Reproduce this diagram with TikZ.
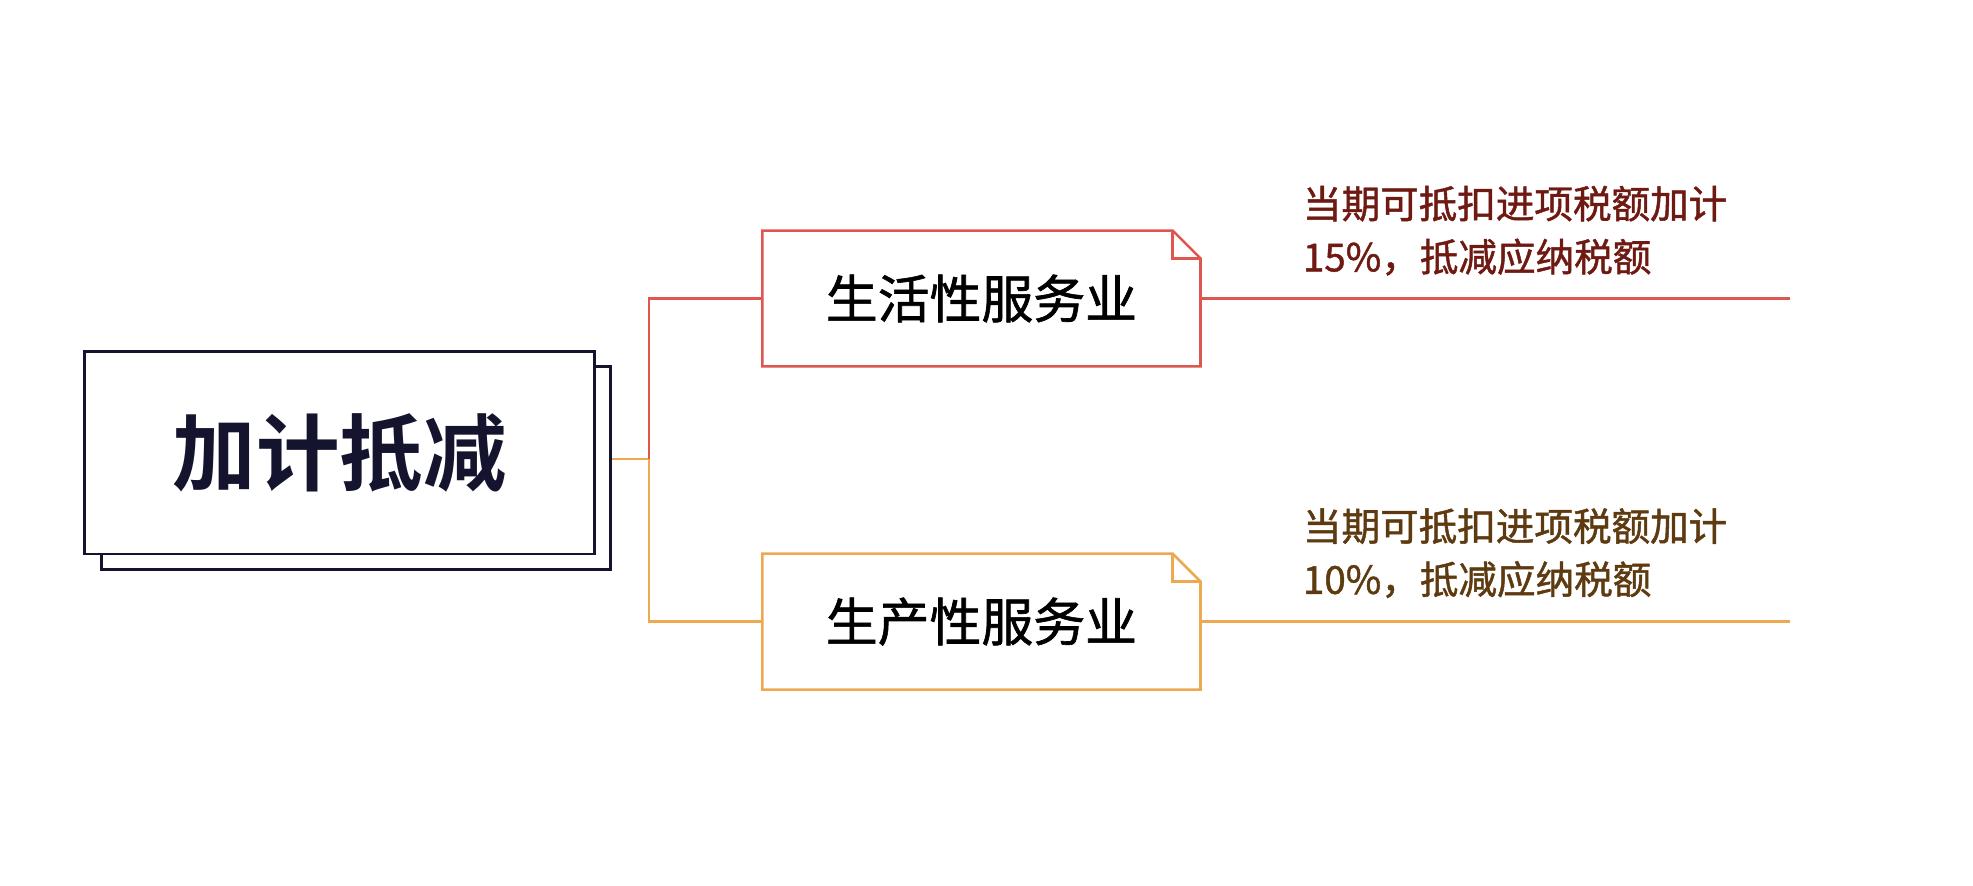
\documentclass[tikz,border=0pt]{standalone}
\usepackage{fontspec}
\newfontfamily\cjk[FakeBold=1.2]{Noto Sans CJK SC}
\newfontfamily\cjkb{Noto Sans CJK SC Bold}
\usetikzlibrary{positioning}
\definecolor{navy}{HTML}{14142E}
\definecolor{lifered}{HTML}{DF5550}
\definecolor{prodorange}{HTML}{EDA94F}
\definecolor{redtext}{HTML}{6E1A12}
\definecolor{browntext}{HTML}{5E3A10}
\tikzset{
  rootbox/.style={draw=navy, line width=2.2pt, fill=white, minimum width=403pt, minimum height=160pt, font=\cjkb\fontsize{66}{70}\selectfont, text=navy},
  leafbox/.style={minimum width=346pt, minimum height=107pt, font=\cjk\fontsize{41}{46}\selectfont},
  note/.style={anchor=south west, align=left, font=\cjk\fontsize{30.5}{42}\selectfont, inner sep=0pt}
}
\begin{document}
\begin{tikzpicture}[x=1pt, y=-1pt]
    \useasboundingbox (0,0) rectangle (1560,700);

    % Define nodes
    \draw[navy, line width=2.2pt, fill=white] (80,290) rectangle (483,450);
    \node[rootbox] (root) at (268.5,358) {加计抵减};
    \node[leafbox] (life) at (776,236) {生活性服务业};
    \node[leafbox] (prod) at (776,491.5) {生产性服务业};
    \coordinate (fork) at (513,363);
    \coordinate (lifeend) at (1415,236);
    \coordinate (prodend) at (1415,491.5);
    \node[note, text=redtext] (lifenote) at (1030,218) {当期可抵扣进项税额加计\\15\%，抵减应纳税额};
    \node[note, text=browntext] (prodnote) at (1030,473) {当期可抵扣进项税额加计\\10\%，抵减应纳税额};

    % Folded corners
    \foreach \n/\c in {life/lifered, prod/prodorange}{
      \draw[\c, line width=2pt, line join=miter]
        (\n.north west) -- ([xshift=-22pt]\n.north east) -- ([yshift=-22pt]\n.north east)
        -- (\n.south east) -- (\n.south west) -- cycle;
      \draw[\c, line width=2pt]
        ([xshift=-22pt]\n.north east) |- ([yshift=-22pt]\n.north east);
    }

    % Connect the nodes
    \draw[prodorange, line width=2pt] (root.east) ++(13pt,5) -- (fork) |- (prod.west);
    \draw[lifered, line width=2pt] (fork) |- (life.west);
    \draw[lifered, line width=2pt] (life.east) -- (lifeend);
    \draw[prodorange, line width=2pt] (prod.east) -- (prodend);

  \end{tikzpicture}
\end{document}
